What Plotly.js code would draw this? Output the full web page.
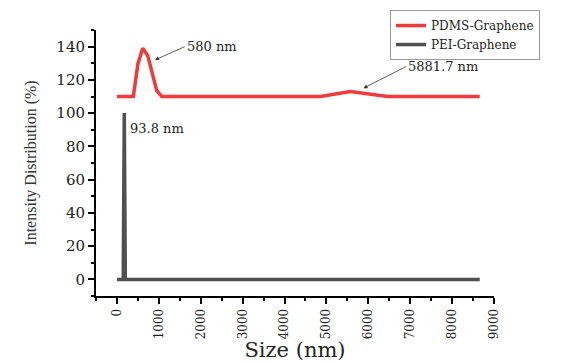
<!DOCTYPE html>
<html>
<head>
<meta charset="utf-8">
<script src="https://cdn.plot.ly/plotly-3.0.1.min.js"></script>
<style>html,body{margin:0;padding:0;background:#fff;}#chart{width:562px;height:362px;}</style>
</head>
<body>
<div id="chart"></div>
<script>
// PDMS-Graphene size distribution (offset curve)
const pdmsSize = [0, 390, 502, 615, 734, 950, 1070, 4860, 5570, 6460, 8660];
const pdmsIntensity = [110, 110, 129.7, 139, 134.7, 113.5, 110, 110, 113, 110, 110];
// PEI-Graphene size distribution
const peiSize = [0, 150, 175, 200, 8660];
const peiIntensity = [0, 0, 100, 0, 0];

const seriesNames = ['PDMS-Graphene', 'PEI-Graphene'];
const annText = ['580 nm', '5881.7 nm', '93.8 nm'];

const serif = 'DejaVu Serif, serif';

const traces = [
  {x: pdmsSize, y: pdmsIntensity, name: seriesNames[0], type: 'scatter', mode: 'lines',
   line: {color: '#EE3B3B', width: 3.5}},
  {x: peiSize, y: peiIntensity, name: seriesNames[1], type: 'scatter', mode: 'lines',
   line: {color: '#505050', width: 3.5}}
];

const layout = {
  width: 562, height: 362,
  margin: {l: 96, r: 68, t: 30, b: 66, pad: 0, autoexpand: false},
  paper_bgcolor: '#fff', plot_bgcolor: '#fff',
  font: {family: serif, color: '#222'},
  showlegend: true,
  legend: {x: 1.1156, xanchor: 'right', y: 1.075, yanchor: 'top', itemwidth: 30,
           bgcolor: '#fff', bordercolor: '#999', borderwidth: 1, tracegroupgap: 0,
           font: {family: serif, size: 12, color: '#222'}},
  xaxis: {
    range: [-500, 9000], dtick: 1000, tick0: 0,
    showgrid: false, zeroline: false, showline: true, linecolor: '#000', linewidth: 2,
    ticks: 'outside', ticklen: 6, tickwidth: 2, tickcolor: '#000',
    tickangle: -90, tickfont: {family: serif, size: 12, color: '#222'},
    minor: {dtick: 500, tick0: 0, ticks: 'outside', ticklen: 3, tickwidth: 2, tickcolor: '#000'},
    title: {text: 'Size (nm)', font: {family: serif, size: 21, color: '#222'}, standoff: 0}
  },
  yaxis: {
    range: [-10, 150], dtick: 20, tick0: 0,
    showgrid: false, zeroline: false, showline: true, linecolor: '#000', linewidth: 2,
    ticks: 'outside', ticklen: 6, tickwidth: 2, tickcolor: '#000',
    tickfont: {family: serif, size: 15, color: '#222'},
    minor: {dtick: 10, tick0: 0, ticks: 'outside', ticklen: 3, tickwidth: 2, tickcolor: '#000'},
    title: {text: 'Intensity Distribution (%)', font: {family: 'Liberation Serif, serif', size: 16, color: '#333'}, standoff: 16}
  },
  annotations: [
    {x: 909, y: 132, xref: 'x', yref: 'y', ax: 1620, ay: 140, axref: 'x', ayref: 'y',
     text: annText[0], showarrow: true, arrowhead: 2, arrowsize: 1, arrowwidth: 0.8, arrowcolor: '#333',
     xanchor: 'left', yanchor: 'middle', font: {family: serif, size: 13, color: '#222'}},
    {x: 5885, y: 115, xref: 'x', yref: 'y', ax: 6900, ay: 128, axref: 'x', ayref: 'y',
     text: annText[1], showarrow: true, arrowhead: 2, arrowsize: 1, arrowwidth: 0.8, arrowcolor: '#333',
     xanchor: 'left', yanchor: 'middle', font: {family: serif, size: 13, color: '#222'}},
    {x: 260, y: 91, xref: 'x', yref: 'y', text: annText[2], showarrow: false,
     xanchor: 'left', yanchor: 'middle', font: {family: serif, size: 13, color: '#222'}}
  ]
};

Plotly.newPlot('chart', traces, layout, {displayModeBar: false, staticPlot: true});
</script>
</body>
</html>
